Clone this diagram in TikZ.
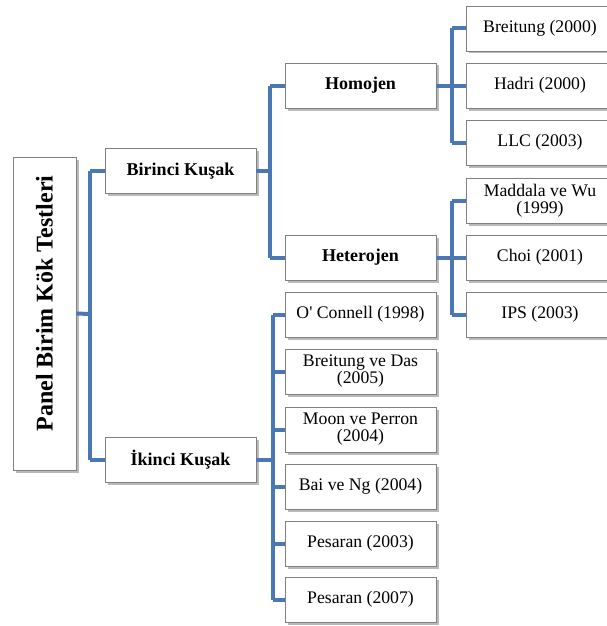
\documentclass[tikz,border=0pt]{standalone}
\usepackage{fontspec}
\setmainfont{Liberation Serif}
\newcommand{\straightq}{{\addfontfeatures{Ligatures=TeXOff}'}}
\usetikzlibrary{shadows}
\definecolor{linkblue}{RGB}{74,120,180}
\definecolor{boxline}{RGB}{128,128,128}
\begin{document}
\begin{tikzpicture}[x=1pt,y=-1pt,
  box/.style={draw=boxline,line width=0.9pt,fill=white,minimum width=151pt,minimum height=45pt,
    inner sep=2pt,align=center,font=\fontsize{17.7}{17}\selectfont,
    drop shadow={shadow xshift=2.5pt,shadow yshift=-2.5pt,opacity=0.45,fill=black!60}},
  leaf/.style={box,minimum width=148pt},
  bbox/.style={box,font=\fontsize{18}{18}\selectfont\bfseries},
  link/.style={draw=linkblue,line width=4pt,rounded corners=1.5pt}]
\path[use as bounding box,clip] (0,0) rectangle (607,626);
\coordinate (j0) at (90,314);
\coordinate (j1) at (270,171);
\coordinate (j2) at (273,460);
\coordinate (j3) at (452,85.5);
\coordinate (j4) at (452,257.5);
% nodes
\node[box,minimum width=313pt,minimum height=63pt,rotate=90,font=\fontsize{24}{24}\selectfont\bfseries] (root) at (44.5,313.5) {\hspace*{20pt}Panel Birim Kök Testleri};
\node[bbox] (bir) at (180.5,171) {Birinci Kuşak};
\node[bbox] (iki) at (180.5,460) {İkinci Kuşak};
\node[bbox] (hom) at (360.5,85.5) {Homojen};
\node[bbox] (het) at (360.5,257.5) {Heterojen};
\node[leaf] (l1) at (540,28.5) {Breitung (2000)};
\node[leaf] (l2) at (540,85.5) {Hadri (2000)};
\node[leaf] (l3) at (540,142.5) {LLC (2003)};
\node[leaf] (l4) at (540,200.5) {Maddala ve Wu\\(1999)};
\node[leaf] (l5) at (540,257.5) {Choi (2001)};
\node[leaf] (l6) at (540,314.5) {IPS (2003)};
\node[box] (m1) at (360.5,314.5) {O\straightq{} Connell (1998)};
\node[box] (m2) at (360.5,371.5) {Breitung ve Das\\(2005)};
\node[box] (m3) at (360.5,429.5) {Moon ve Perron\\(2004)};
\node[box] (m4) at (360.5,486.5) {Bai ve Ng (2004)};
\node[box] (m5) at (360.5,543.5) {Pesaran (2003)};
\node[box] (m6) at (360.5,599.5) {Pesaran (2007)};
% connectors
\path[link] (root.south) -- (j0);
\path[link] (j0 |- bir.west) -- (j0 |- iki.west);
\path[link] (j0 |- bir.west) -- (bir.west);
\path[link] (j0 |- iki.west) -- (iki.west);
\path[link] (bir.east) -- (j1);
\path[link] (j1 |- hom.west) -- (j1 |- het.west);
\path[link] (j1 |- hom.west) -- (hom.west);
\path[link] (j1 |- het.west) -- (het.west);
\path[link] (iki.east) -- (j2);
\path[link] (j2 |- m1.west) -- (j2 |- m6.west);
\foreach \n in {m1,m2,m3,m4,m5,m6} {\path[link] (j2 |- \n.west) -- (\n.west);}
\path[link] (hom.east) -- (l2.west);
\path[link] (j3 |- l1.west) -- (j3 |- l3.west);
\path[link] (j3 |- l1.west) -- (l1.west);
\path[link] (j3 |- l3.west) -- (l3.west);
\path[link] (het.east) -- (l5.west);
\path[link] (j4 |- l4.west) -- (j4 |- l6.west);
\path[link] (j4 |- l4.west) -- (l4.west);
\path[link] (j4 |- l6.west) -- (l6.west);
\end{tikzpicture}
\end{document}
